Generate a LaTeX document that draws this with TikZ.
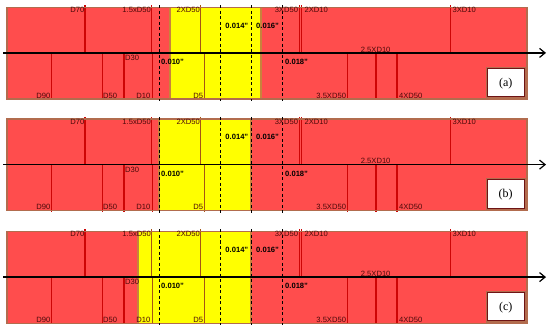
\documentclass[tikz,border=0pt]{standalone}
\usepackage{fontspec}
\setmainfont{Liberation Serif}
\setsansfont{Liberation Sans}
\usetikzlibrary{arrows.meta}
\definecolor{panelred}{RGB}{255,77,77}
\definecolor{panelbrd}{RGB}{178,108,78}
\definecolor{linered}{RGB}{205,5,5}
\definecolor{linebrn}{RGB}{165,85,20}
\definecolor{ylw}{RGB}{255,255,0}
\definecolor{ylwbrd}{RGB}{200,130,60}
\definecolor{labcol}{RGB}{75,10,10}
\definecolor{boxbrd}{RGB}{110,20,20}
\tikzset{
  lab/.style={font=\sffamily\fontsize{7.6}{8}\selectfont, text=labcol, inner sep=0pt},
  blab/.style={font=\sffamily\bfseries\fontsize{7.6}{8}\selectfont, text=black, inner sep=0pt},
  dline/.style={draw=black, line width=1pt, dash pattern=on 3pt off 2.5pt},
  sline/.style={line width=1.2pt},
  axisline/.style={draw=black, line width=1.4pt, -{Straight Barb[length=5.5pt,width=9pt,line width=1.2pt]}},
  panelbox/.style={draw=panelbrd, line width=1.3pt},
  tagbox/.style={fill=white, draw=boxbrd, line width=1pt},
  tagtext/.style={font=\fontsize{12}{14}\selectfont, inner sep=0pt},
}
\newcommand\drawsolid[1]{%
  \foreach \x in {85,151.5,200.7,299.3,301.7,450.7} {\draw[#1, sline] (\x,\t-2) -- (\x,\ax);}%
  \foreach \x in {51.7,102.3,124,152.5,204.3,347.7,376,397} {\draw[#1, sline] (\x,\ax) -- (\x,\bt+1);}%
}
\begin{document}
\begin{tikzpicture}[x=1pt,y=-1pt]
\useasboundingbox (0,0) rectangle (550,329);
\foreach \t/\yl/\yr/\lab in {7.3/169.5/260.5/a, 119/159/250.5/b, 231.5/138/251/c}{
  \pgfmathsetmacro\ax{\t+45.6}
  \pgfmathsetmacro\bt{\t+91.8}
  % panel background
  \fill[panelred] (7,\t) rectangle (527,\bt);
  \fill[ylw] (\yl,\t) rectangle (\yr,\bt);
  \draw[ylwbrd, line width=2pt] (\yl,\t) -- (\yl,\bt) (\yr,\t) -- (\yr,\bt);
  % solid size lines
  \drawsolid{linered}
  \begin{scope}
    \clip (\yl,\t-3) rectangle (\yr,\bt+3);
    \drawsolid{linebrn}
  \end{scope}
  \draw[panelbox] (7,\t) rectangle (527,\bt);
  % tag box
  \fill[panelbrd] (486,\t+59.5) rectangle (527.6,\bt+0.6);
  \draw[tagbox] (487.5,\t+61) rectangle (524,\t+89.4);
  \node[tagtext] (tag-\lab) at (505.7,\t+76) {(\lab)};
  % dashed lines
  \foreach \x in {159.3,220.7,251,282.3} {\draw[dline] (\x,\t-2) -- (\x,\bt+2);}
  % axis
  \coordinate (axs-\lab) at (3,\ax);
  \coordinate (axe-\lab) at (546,\ax);
  \draw[axisline] (axs-\lab) -- (axe-\lab);
  % top labels
  \node[lab, anchor=base east] (d70-\lab) at (84.5,\t+5.2) {D70};
  \node[lab, anchor=base east] (d15-\lab) at (151,\t+5.2) {1.5xD50};
  \node[lab, anchor=base east] (d2x-\lab) at (200,\t+5.2) {2XD50};
  \node[lab, anchor=base east] (d3x-\lab) at (298.2,\t+5.2) {3XD50};
  \node[lab, anchor=base west] (d2t-\lab) at (304.5,\t+5.2) {2XD10};
  \node[lab, anchor=base west] (d3t-\lab) at (452.5,\t+5.2) {3XD10};
  % bottom labels
  \node[lab, anchor=base east] (d90-\lab) at (50.5,\bt-0.8) {D90};
  \node[lab, anchor=base west] (d50-\lab) at (103,\bt-0.8) {D50};
  \node[lab, anchor=base east] (d10-\lab) at (150.6,\bt-0.8) {D10};
  \node[lab, anchor=base east] (d5-\lab) at (203.2,\bt-0.8) {D5};
  \node[lab, anchor=base east] (d35-\lab) at (346.2,\bt-0.8) {3.5XD50};
  \node[lab, anchor=base west] (d4x-\lab) at (399,\bt-0.8) {4XD50};
  % labels at the axis
  \node[lab, anchor=base west] (d30-\lab) at (125,\ax+7.5) {D30};
  \node[lab, anchor=base west] (d25-\lab) at (360.7,\ax-0.8) {2.5XD10};
  \node[blab, anchor=base west] (v10-\lab) at (161,\ax+11.5) {0.010"};
  \node[blab, anchor=base west] (v18-\lab) at (285,\ax+11.8) {0.018"};
  \node[blab, anchor=base east] (v14-\lab) at (248.5,\t+21) {0.014"};
  \node[blab, anchor=base west] (v16-\lab) at (256,\t+21) {0.016"};
}
\end{tikzpicture}
\end{document}
